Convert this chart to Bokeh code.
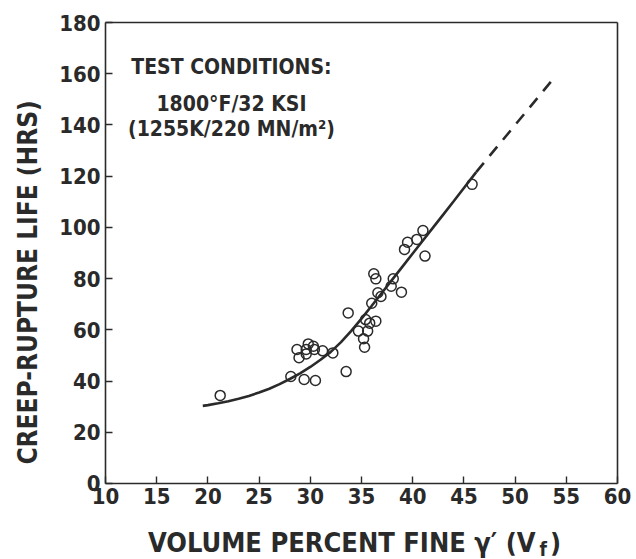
import math
from bokeh.plotting import figure
from bokeh.models import Range1d, Label, FixedTicker, LinearAxis
from bokeh.embed import file_html
from bokeh.resources import INLINE

# ---- data ----
vf_points = [21.2, 28.1, 29.4, 30.5, 33.5, 28.7, 28.9, 29.6, 29.6, 29.8, 30.3, 30.4,
             31.2, 32.2, 33.7, 35.3, 35.2, 34.7, 35.6, 35.4, 35.8, 36.4, 36.0, 36.6,
             36.9, 36.2, 36.4, 38.1, 37.9, 38.9, 39.2, 39.5, 40.4, 41.0, 41.2, 45.8]
life_points = [34.4, 41.8, 40.6, 40.2, 43.7, 52.3, 49.1, 52.3, 50.6, 54.5, 53.6, 52.3,
               51.8, 51.0, 66.6, 53.2, 56.5, 59.5, 59.5, 64.0, 62.6, 63.4, 70.4, 74.5,
               73.0, 81.9, 79.9, 79.9, 77.0, 74.7, 91.4, 94.2, 95.3, 98.8, 88.8, 116.8]

vf_curve = [19.5, 20, 21, 22, 23, 24, 25, 26, 27, 28, 29, 30, 31, 32, 33, 34, 35,
            36, 37, 38, 39, 40, 41, 42, 43, 44, 45, 46.2]
life_curve = [30.3, 30.6, 31.3, 32.1, 33.1, 34.2, 35.5, 37.0, 38.8, 40.8, 43.0, 45.5,
              48.3, 51.4, 55.2, 59.6, 64.4, 69.4, 74.5, 79.6, 84.7, 89.8, 94.9, 100.0,
              105.1, 110.2, 115.4, 121.6]

vf_extrap = [46.2, 54.0]
life_extrap = [121.6, 159.3]

x_ticks = [10, 15, 20, 25, 30, 35, 40, 45, 50, 55, 60]
y_ticks = [0, 20, 40, 60, 80, 100, 120, 140, 160, 180]
x_lim = (10, 60)
y_lim = (0, 180)

title_lines = ["TEST CONDITIONS:", "1800°F/32 KSI", "(1255K/220 MN/m²)"]
x_label = "VOLUME PERCENT FINE γ′ (V"
x_label_sub = "f"
y_label = "CREEP-RUPTURE LIFE (HRS)"

INK = "#2a2a2a"
FONT = "DejaVu Sans Condensed"

# the plotting area fills the canvas; the axes are drawn at fixed data locations
p = figure(width=636, height=559, output_backend="svg", toolbar_location=None,
           x_range=Range1d(-0.254, 61.855), y_range=Range1d(-29.68, 188.6),
           min_border_left=0, min_border_right=0, min_border_top=0,
           min_border_bottom=0, x_axis_type=None, y_axis_type=None)
p.outline_line_color = None
p.xgrid.visible = False
p.ygrid.visible = False
p.background_fill_color = "white"
p.border_fill_color = "white"


def style_axis(ax, ticks, labels=True):
    ax.ticker = FixedTicker(ticks=ticks)
    ax.axis_line_color = INK
    ax.axis_line_width = 1.6
    ax.major_tick_line_color = INK if labels else None
    ax.major_tick_line_width = 1.4
    ax.major_tick_in = 7
    ax.major_tick_out = 0
    ax.minor_tick_line_color = None
    ax.major_label_text_font = FONT
    ax.major_label_text_font_style = "bold"
    ax.major_label_text_font_size = "22px"
    ax.major_label_text_color = INK
    ax.major_label_standoff = 5
    if not labels:
        ax.major_label_text_alpha = 0


xaxis = LinearAxis(fixed_location=y_lim[0], bounds=x_lim)
style_axis(xaxis, x_ticks)
p.add_layout(xaxis, "below")
yaxis = LinearAxis(fixed_location=x_lim[0], bounds=y_lim)
style_axis(yaxis, y_ticks)
p.add_layout(yaxis, "left")
top = LinearAxis(fixed_location=y_lim[1], bounds=x_lim)
style_axis(top, x_ticks, labels=False)
p.add_layout(top, "above")
right = LinearAxis(fixed_location=x_lim[1], bounds=y_lim)
style_axis(right, y_ticks, labels=False)
p.add_layout(right, "right")

p.line(vf_curve, life_curve, line_color=INK, line_width=2.6)
p.line(vf_extrap, life_extrap, line_color=INK, line_width=2.6, line_dash="12 9")
p.scatter(vf_points, life_points, marker="circle", size=10, fill_color="white",
          fill_alpha=0.0, line_color=INK, line_width=1.5)

# annotation block
ann_y = [162.5, 148.0, 138.6]
for txt, yy in zip(title_lines, ann_y):
    p.add_layout(Label(x=22.3, y=yy, text=txt, text_align="center",
                       text_baseline="middle", text_font=FONT,
                       text_font_style="bold", text_font_size="21px",
                       text_color=INK))

# axis titles
p.add_layout(Label(x=52.0, y=-23.0, text=x_label, text_align="right",
                   text_baseline="alphabetic", text_font=FONT,
                   text_font_style="bold", text_font_size="27px", text_color=INK))
p.add_layout(Label(x=53.1, y=-25.4, text=x_label_sub, text_align="right",
                   text_baseline="alphabetic", text_font=FONT,
                   text_font_style="bold", text_font_size="19px", text_color=INK))
p.add_layout(Label(x=54.5, y=-23.0, text=")", text_align="right",
                   text_baseline="alphabetic", text_font=FONT,
                   text_font_style="bold", text_font_size="27px", text_color=INK))
p.add_layout(Label(x=2.4, y=78.5, text=y_label, angle=math.pi / 2,
                   text_align="center", text_baseline="middle",
                   text_font=FONT, text_font_style="bold",
                   text_font_size="26px", text_color=INK))

open("out.html", "w").write(file_html(p, INLINE))
